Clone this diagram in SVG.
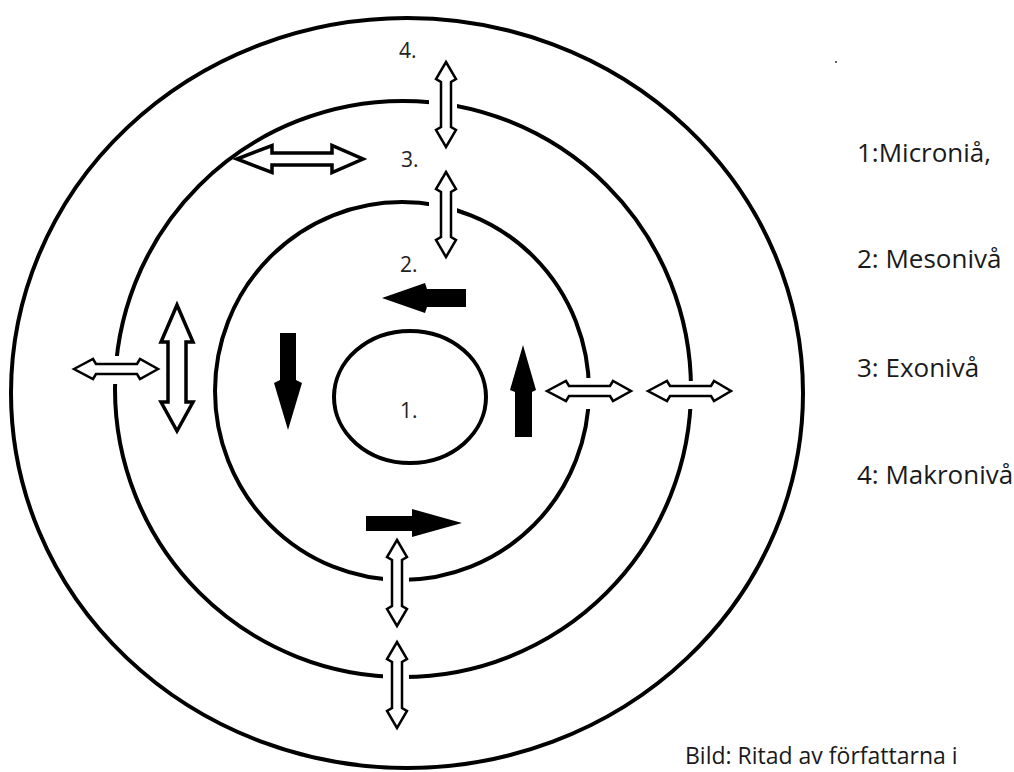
<svg xmlns="http://www.w3.org/2000/svg" width="1014" height="772" viewBox="0 0 1014 772">
<style>
.ring{fill:none;stroke:#000;stroke-width:4}
.dbl{fill:#fff;stroke:#000;stroke-width:2.5;stroke-linejoin:miter}
.dblb{fill:#fff;stroke:#000;stroke-width:3.5;stroke-linejoin:miter}
.solid{fill:#000;stroke:none}
.num{font-family:"Open Sans","Liberation Sans",sans-serif;font-size:21px;fill:#222}
.lbl{font-family:"Open Sans","Liberation Sans",sans-serif;font-size:26px;fill:#1a1a1a}
.cap{font-family:"Open Sans","Liberation Sans",sans-serif;font-size:23px;fill:#1a1a1a}
</style>
<defs>
<mask id="gaps" maskUnits="userSpaceOnUse" x="0" y="0" width="1014" height="772">
<rect x="0" y="0" width="1014" height="772" fill="#fff"/>
<rect x="429" y="85" width="28" height="40" fill="#000"/>
<rect x="100" y="356" width="30" height="28" fill="#000"/>
<rect x="675" y="381" width="30" height="28" fill="#000"/>
<rect x="383" y="660" width="26" height="35" fill="#000"/>
<rect x="429" y="190" width="28" height="35" fill="#000"/>
<rect x="573" y="378" width="32" height="31" fill="#000"/>
<rect x="383" y="565" width="26" height="30" fill="#000"/>
</mask>
</defs>
<rect x="0" y="0" width="1014" height="772" fill="#fff"/>
<g id="rings" mask="url(#gaps)">
<g id="level4"><ellipse class="ring" cx="407" cy="393" rx="396" ry="375"/></g>
<g id="level3"><ellipse class="ring" cx="403" cy="389" rx="288" ry="288"/></g>
<g id="level2"><ellipse class="ring" cx="402" cy="391" rx="187" ry="189"/></g>
<g id="level1"><ellipse class="ring" cx="410" cy="397" rx="76" ry="66"/></g>
</g>
<g id="connectors">
<polygon class="dbl" points="446,62 456,79 451,82 451,127 456,130 446,147 436,130 441,127 441,82 436,79"/>
<polygon class="dbl" points="446,172 456,189 451,192 451,237 456,240 446,257 436,240 441,237 441,192 436,189"/>
<polygon class="dbl" points="397,540 407,557 402,560 402,606 407,609 397,626 387,609 392,606 392,560 387,557"/>
<polygon class="dbl" points="397,642 407,659 402,662 402,708 407,711 397,728 387,711 392,708 392,662 387,659"/>
<polygon class="dbl" points="74,369 93,359 96,364 137,364 140,359 158,369 140,379 137,374 96,374 93,379"/>
<polygon class="dbl" points="547,391 566,381 569,386 610,386 613,381 631,391 613,401 610,396 569,396 566,401"/>
<polygon class="dbl" points="648,391 667,381 670,386 711,386 714,381 731,391 714,401 711,396 670,396 667,401"/>
<polygon class="dblb" points="237,159 272,145.5 272,153 332,153 332,145.5 363,159 332,172.5 332,165 272,165 272,172.5"/>
<polygon class="dblb" points="177,305 193,342 186,342 186,402 193,402 177,431 161,402 168,402 168,342 161,342"/>
<polygon class="solid" points="382,298 425,283 427,289 466,289 466,307 427,307 425,313"/>
<polygon class="solid" points="280,333 296,333 296,380 302,383 288,430 274,383 280,380"/>
<polygon class="solid" points="523,345 536,390 532,392 532,437 515,437 515,392 510,390"/>
<polygon class="solid" points="366,516 412,516 412,509 462,523 412,537 412,531 366,531"/>
</g>
<g id="numbers">
<text class="num" x="399" y="58">4.</text>
<text class="num" x="401" y="167">3.</text>
<text class="num" x="400" y="272">2.</text>
<text class="num" x="400" y="418">1.</text>
</g>
<g id="legend">
<text class="lbl" x="857" y="162">1:Microniå,</text>
<text class="lbl" x="857" y="268">2: Mesonivå</text>
<text class="lbl" x="857" y="377">3: Exonivå</text>
<text class="lbl" x="857" y="484">4: Makronivå</text>
</g>
<g id="caption">
<text class="cap" x="685" y="764">Bild: Ritad av författarna i</text>
</g>
<rect x="835" y="61" width="2" height="2" fill="#666"/>
</svg>
